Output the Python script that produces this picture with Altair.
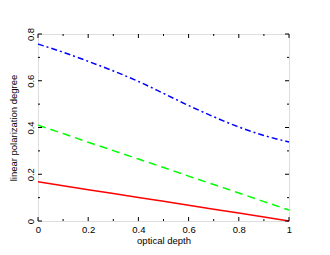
import altair as alt
import pandas as pd

# --- data ---
depth = [0.0, 0.1, 0.2, 0.3, 0.4, 0.5, 0.6, 0.7, 0.8, 0.9, 1.0]
red_vals = [0.168, 0.151, 0.134, 0.118, 0.101, 0.084, 0.067, 0.050, 0.034, 0.017, 0.0]
green_vals = [0.410, 0.374, 0.337, 0.301, 0.265, 0.229, 0.192, 0.156, 0.120, 0.083, 0.047]
blue_vals = [0.757, 0.722, 0.683, 0.642, 0.597, 0.546, 0.494, 0.446, 0.402, 0.366, 0.338]

x_major = [0.0, 0.2, 0.4, 0.6, 0.8, 1.0]
x_minor = [0.1, 0.3, 0.5, 0.7, 0.9]
y_major = [0.0, 0.2, 0.4, 0.6, 0.8]
y_minor = [0.1, 0.3, 0.5, 0.7]

W, H = 251, 187
FONT = "Liberation Sans"

df_red = pd.DataFrame({"x": depth, "y": red_vals})
df_green = pd.DataFrame({"x": depth, "y": green_vals})
df_blue = pd.DataFrame({"x": depth, "y": blue_vals})

xscale = alt.Scale(domain=[0, 1], nice=False, zero=False)
yscale = alt.Scale(domain=[0, 0.8], nice=False, zero=False)

xaxis = alt.Axis(values=x_major, ticks=False, domain=False, grid=False,
                 title="optical depth", labelFontSize=9.5, titleFontSize=9.5,
                 labelFont=FONT, titleFont=FONT, titleFontWeight="normal",
                 labelColor="black", titleColor="black", labelPadding=3,
                 titlePadding=2, labelExpr="format(datum.value, '~g')",
                 labelFlush=False)
yaxis = alt.Axis(values=y_major, ticks=False, domain=False, grid=False,
                 title="linear polarization degree", labelFontSize=9.5,
                 titleFontSize=9.5, labelFont=FONT, titleFont=FONT,
                 titleFontWeight="normal", labelColor="black", titleColor="black",
                 labelAngle=270, labelPadding=3, titlePadding=7,
                 labelExpr="format(datum.value, '~g')", labelFlush=False)

base_x = alt.X("x:Q", scale=xscale, axis=xaxis)
base_y = alt.Y("y:Q", scale=yscale, axis=yaxis)

red = alt.Chart(df_red).mark_line(color="#ff0000", strokeWidth=1.5).encode(x=base_x, y=base_y)
green = alt.Chart(df_green).mark_line(color="#00ff00", strokeWidth=1.5,
                                      strokeDash=[8, 5]).encode(x="x:Q", y="y:Q")
blue = alt.Chart(df_blue).mark_line(color="#0000ff", strokeWidth=1.5,
                                    strokeDash=[6, 3, 2, 3],
                                    interpolate="monotone").encode(x="x:Q", y="y:Q")

def xticks(vals, length):
    d = pd.DataFrame({"x": vals})
    bot = alt.Chart(d).mark_rule(color="black", strokeWidth=1).encode(
        x=alt.X("x:Q", scale=xscale), y=alt.value(H), y2=alt.value(H - length))
    top = alt.Chart(d).mark_rule(color="black", strokeWidth=1).encode(
        x=alt.X("x:Q", scale=xscale), y=alt.value(0), y2=alt.value(length))
    return [bot, top]

def yticks(vals, length):
    d = pd.DataFrame({"y": vals})
    left = alt.Chart(d).mark_rule(color="black", strokeWidth=1).encode(
        y=alt.Y("y:Q", scale=yscale), x=alt.value(0), x2=alt.value(length))
    right = alt.Chart(d).mark_rule(color="black", strokeWidth=1).encode(
        y=alt.Y("y:Q", scale=yscale), x=alt.value(W), x2=alt.value(W - length))
    return [left, right]

layers = [red, green, blue]
layers += xticks(x_major, 4) + xticks(x_minor, 2)
layers += yticks(y_major, 4) + yticks(y_minor, 2)

chart = alt.layer(*layers).properties(
    width=W, height=H,
    autosize=alt.AutoSizeParams(type="none"),
    padding={"left": 30, "top": 26, "right": 30, "bottom": 30},
).configure_view(stroke="black", strokeWidth=1.2).configure(background="white")

chart.save("out.html", embed_options={"renderer": "svg", "actions": False})
